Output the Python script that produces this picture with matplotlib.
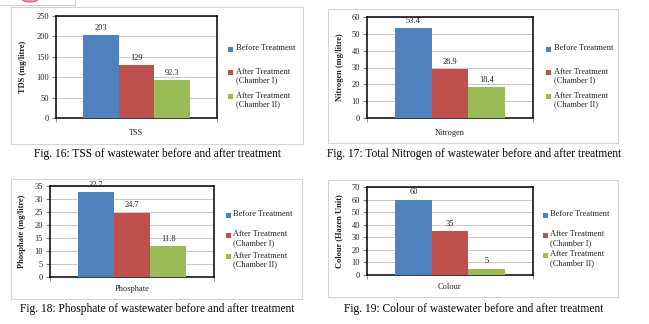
import matplotlib.pyplot as plt
from matplotlib.patches import Rectangle, Ellipse
import numpy as np

plt.rcParams['font.family'] = ['Liberation Serif', 'DejaVu Serif']

categories = ["TSS", "Nitrogen", "Phosphate", "Colour"]
before = [203, 53.4, 32.7, 60]
chamber1 = [129, 28.9, 24.7, 35]
chamber2 = [92.3, 18.4, 11.8, 5]
series_names = ["Before Treatment", "After Treatment\n(Chamber I)", "After Treatment\n(Chamber II)"]
ylabels = ["TDS (mg/litre)", "Nitrogen (mg/litre)", "Phosphate (mg/litre)", "Colour (Hazen Unit)"]
ymax = [250, 60, 35, 70]
ystep = [50, 10, 5, 10]
captions = [
    "Fig. 16: TSS of wastewater before and after treatment",
    "Fig. 17: Total Nitrogen of wastewater before and after treatment",
    "Fig. 18: Phosphate of wastewater before and after treatment",
    "Fig. 19: Colour of wastewater before and after treatment",
]

colors = ['#4F81BD', '#C0504D', '#9BBB59']

W, H = 649, 324
fig = plt.figure(figsize=(W / 100, H / 100), dpi=100)


def px_box(x0, y0, x1, y1):
    # pixel box (top-left origin) -> figure fraction [l, b, w, h]
    return [x0 / W, 1 - y1 / H, (x1 - x0) / W, (y1 - y0) / H]


def fx(x):
    return x / W


def fy(y):
    return 1 - y / H


# panel layout in pixels: outer frame, plot area, y-label x, legend marker x, legend rows y, caption
panels = [
    dict(frame=(11, 7, 303, 144), plot=(56, 16, 217, 118), ylab_x=23, leg_x=230,
         leg_y=(49, 72, 96), xpad=8, cap=(157, 154)),
    dict(frame=(328, 9, 618, 143), plot=(367, 17, 533, 118), ylab_x=340, leg_x=548,
         leg_y=(49, 72, 96), xpad=8, cap=(474, 154)),
    dict(frame=(11, 179, 302, 299), plot=(50, 186, 214, 277), ylab_x=22, leg_x=228,
         leg_y=(215, 235, 256), xpad=6, cap=(157, 309)),
    dict(frame=(328, 180, 618, 297), plot=(367, 187, 533, 275), ylab_x=339, leg_x=545,
         leg_y=(215, 235, 255), xpad=6, cap=(474, 309)),
]

# small cropped box at the very top left
fig.patches.append(Rectangle((fx(-2), fy(5)), fx(77), fy(-5) - fy(5), transform=fig.transFigure,
                             fill=False, edgecolor='#D0D0D0', linewidth=0.8))
fig.patches.append(Ellipse((fx(30), fy(-1)), fx(16), fy(0) - fy(6), transform=fig.transFigure,
                           facecolor='#E8A0A0', edgecolor='#D06060', linewidth=0.8, zorder=0))

for i, p in enumerate(panels):
    fx0, fy0, fx1, fy1 = p['frame']
    fig.patches.append(Rectangle((fx(fx0), fy(fy1)), fx(fx1 - fx0), fy(fy0) - fy(fy1),
                                 transform=fig.transFigure, fill=False,
                                 edgecolor='#D4D4D4', linewidth=0.8))

    ax = fig.add_axes(px_box(*p['plot']))
    vals = [before[i], chamber1[i], chamber2[i]]
    w = 0.22
    for j, v in enumerate(vals):
        ax.bar((j - 1) * w, v, width=w, color=colors[j], zorder=3)
        ax.annotate(f"{v:g}", ((j - 1) * w, v), xytext=(0, 2.5), textcoords='offset points',
                    ha='center', va='bottom', fontsize=6, color='#222222')

    ax.set_xlim(-0.5, 0.5)
    ax.set_ylim(0, ymax[i])
    ax.set_yticks(np.arange(0, ymax[i] + 1, ystep[i]))
    ax.grid(axis='y', color='#C8C8C8', linewidth=0.7, zorder=0)
    ax.set_xticks([0])
    ax.set_xticklabels([categories[i]])
    ax.set_xticks([-0.5, 0.5], minor=True)
    ax.tick_params(axis='x', which='major', length=0, pad=p['xpad'], labelsize=6, labelcolor='#222222')
    ax.tick_params(axis='x', which='minor', length=3, color='#808080', direction='out')
    ax.tick_params(axis='y', length=3, color='#808080', direction='out', labelsize=6,
                   labelcolor='#222222', pad=2)
    for s in ax.spines.values():
        s.set_linewidth(1.1)
        s.set_color('black')

    py0, py1 = p['plot'][1], p['plot'][3]
    fig.text(fx(p['ylab_x']), fy((py0 + py1) / 2), ylabels[i], rotation=90, ha='center', va='center',
             fontsize=6, fontweight='bold', color='#222222')

    # legend: square marker beside the first line of each entry
    mx = p['leg_x']
    for j, name in enumerate(series_names):
        yy = p['leg_y'][j]
        fig.patches.append(Rectangle((fx(mx - 2.5), fy(yy + 2.5)), fx(5), fy(0) - fy(5),
                                     transform=fig.transFigure, facecolor=colors[j], edgecolor='none'))
        fig.text(fx(mx + 5.5), fy(yy - 4.5), name, ha='left', va='top', fontsize=6,
                 color='#222222', linespacing=1.15)

    cx, cy = p['cap']
    fig.text(fx(cx), fy(cy), captions[i], ha='center', va='center', fontsize=8.3, color='black')

fig.savefig('out.png', dpi=100, facecolor='white')
